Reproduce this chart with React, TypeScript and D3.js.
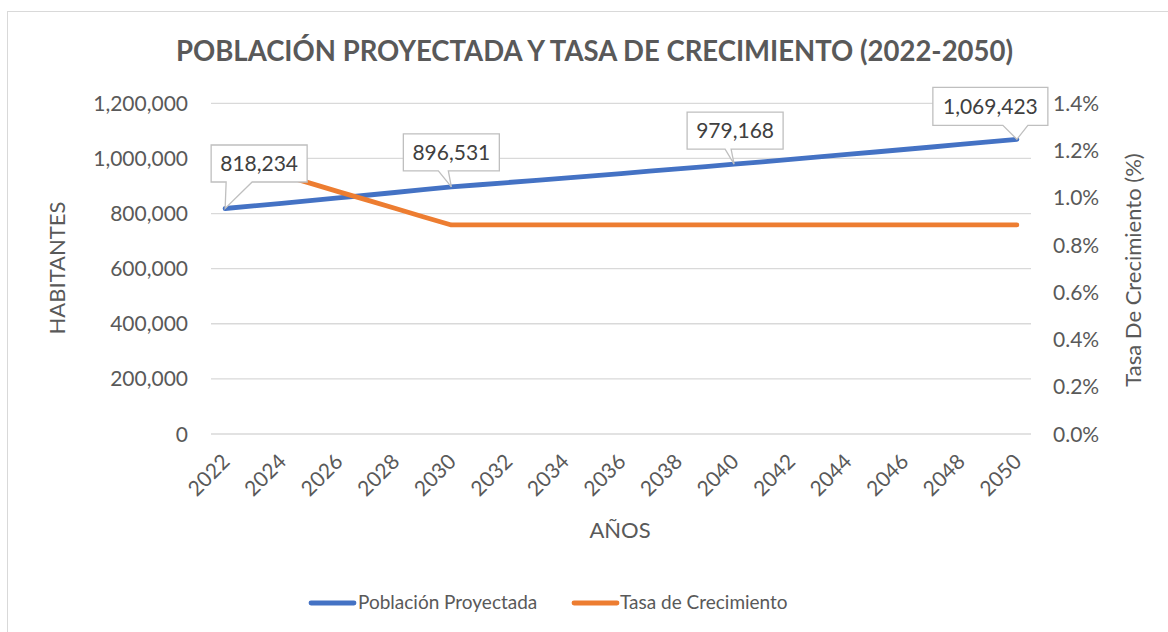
import React from "react";
import * as d3 from "d3";

const years: number[] = [2022, 2023, 2024, 2025, 2026, 2027, 2028, 2029, 2030, 2031, 2032, 2033, 2034, 2035, 2036, 2037, 2038, 2039, 2040, 2041, 2042, 2043, 2044, 2045, 2046, 2047, 2048, 2049, 2050];
const poblacion: number[] = [818234, 827644, 837162, 846789, 856527, 866377, 876340, 886418, 896531, 904465, 912470, 920545, 928692, 936911, 945203, 953568, 962007, 970521, 979168, 987834, 996576, 1005396, 1014294, 1023270, 1032326, 1041462, 1050679, 1059977, 1069423];
const tasa: number[] = [1.168, 1.132, 1.097, 1.062, 1.026, 0.991, 0.956, 0.92, 0.885, 0.885, 0.885, 0.885, 0.885, 0.885, 0.885, 0.885, 0.885, 0.885, 0.885, 0.885, 0.885, 0.885, 0.885, 0.885, 0.885, 0.885, 0.885, 0.885, 0.885];
const leftTicks: number[] = [0, 200000, 400000, 600000, 800000, 1000000, 1200000];
const rightTicks: number[] = [0, 0.2, 0.4, 0.6, 0.8, 1.0, 1.2, 1.4];
const labeledYears: number[] = [2022, 2030, 2040, 2050];

const title = "POBLACIÓN PROYECTADA Y TASA DE CRECIMIENTO (2022-2050)";
const seriesNames = ["Población Proyectada", "Tasa de Crecimiento"];

// styling / layout (not data)
const FONT = "Lato, 'Open Sans', sans-serif";
const TXT = "#595959";
const BLUE = "#4472C4";
const ORANGE = "#ED7D31";
const GRID = "#d9d9d9";
const labelStyle: Record<number, { dx: number; dy: number; w: number; h: number; b0: number; b1: number }> = {
  2022: { dx: 34, dy: -45, w: 96, h: 37, b0: 15, b1: 41 },
  2030: { dx: 0, dy: -34.5, w: 96, h: 37, b0: 35, b1: 45 },
  2040: { dx: 1, dy: -33.5, w: 96, h: 37, b0: 38, b1: 44 },
  2050: { dx: -26.5, dy: -33, w: 115, h: 38, b0: 70, b1: 95 },
};

export default function App() {
  const W = 1168, H = 632;
  const x = d3.scaleBand<number>().domain(years).range([211, 1031]);
  const cx = (yr: number) => (x(yr) as number) + x.bandwidth() / 2;
  const y = d3.scaleLinear().domain([0, 1200000]).range([434, 103.3]);
  const y2 = d3.scaleLinear().domain([0, 1.4]).range([434, 103.3]);
  const fmt = d3.format(",");

  const popLine = d3.line<number>().x((_, i) => cx(years[i])).y((d) => y(d));
  const tasaLine = d3.line<number>().x((_, i) => cx(years[i])).y((d) => y2(d));

  return (
    <svg width={W} height={H} style={{ position: "absolute", left: 0, top: 0, background: "#fff" }} fontFamily={FONT}>
      <rect x={0} y={0} width={W} height={H} fill="#fff" />
      <rect x={7.5} y={11.5} width={W + 10} height={H + 10} fill="#fff" stroke="#d9d9d9" strokeWidth={1} />
      <text x={594.5} y={61} textAnchor="middle" fontSize={28} fontWeight={700} fill={TXT} textLength={837} lengthAdjust="spacingAndGlyphs">{title}</text>

      {leftTicks.map((t) => (
        <g key={"g" + t}>
          <line x1={211} x2={1031} y1={y(t)} y2={y(t)} stroke={GRID} strokeWidth={1.3} />
          <text x={188} y={y(t) + 7.5} textAnchor="end" fontSize={21} fill={TXT}>{fmt(t)}</text>
        </g>
      ))}
      {rightTicks.map((t) => (
        <text key={"r" + t} x={1053} y={y2(t) + 7.5} textAnchor="start" fontSize={21} fill={TXT}>{d3.format(".1f")(t) + "%"}</text>
      ))}
      {years.filter((_, i) => i % 2 === 0).map((yr) => (
        <text key={"x" + yr} transform={`translate(${cx(yr) + 6},${463}) rotate(-45)`} textAnchor="end" fontSize={21} fill={TXT}>{yr}</text>
      ))}

      <text transform="translate(65,268) rotate(-90)" textAnchor="middle" fontSize={22} fill={TXT}>HABITANTES</text>
      <text transform="translate(1141,270) rotate(-90)" textAnchor="middle" fontSize={22} fill={TXT}>Tasa De Crecimiento (%)</text>
      <text x={620} y={538} textAnchor="middle" fontSize={22} fill={TXT}>AÑOS</text>

      <path d={popLine(poblacion) || ""} fill="none" stroke={BLUE} strokeWidth={4.8} strokeLinecap="round" strokeLinejoin="round" />
      <path d={tasaLine(tasa) || ""} fill="none" stroke={ORANGE} strokeWidth={4.8} strokeLinecap="round" strokeLinejoin="round" />

      {labeledYears.map((yr) => {
        const i = years.indexOf(yr);
        const px = cx(yr), py = y(poblacion[i]);
        const s = labelStyle[yr];
        const l = px + s.dx - s.w / 2, t = py + s.dy - s.h / 2;
        const r = l + s.w, b = t + s.h;
        const d = `M${l},${t}H${r}V${b}H${l + s.b1}L${px},${py}L${l + s.b0},${b}H${l}Z`;
        return (
          <g key={"lab" + yr}>
            <path d={d} fill="#fff" stroke="#bfbfbf" strokeWidth={1.3} />
            <text x={l + s.w / 2} y={t + s.h / 2 + 7.5} textAnchor="middle" fontSize={21} fill="#404040">{fmt(poblacion[i])}</text>
          </g>
        );
      })}

      <line x1={311} x2={354} y1={603} y2={603} stroke={BLUE} strokeWidth={4.8} strokeLinecap="round" />
      <text x={358} y={609} fontSize={19} fill={TXT}>{seriesNames[0]}</text>
      <line x1={574} x2={617} y1={603} y2={603} stroke={ORANGE} strokeWidth={4.8} strokeLinecap="round" />
      <text x={620} y={609} fontSize={19} fill={TXT}>{seriesNames[1]}</text>
    </svg>
  );
}
